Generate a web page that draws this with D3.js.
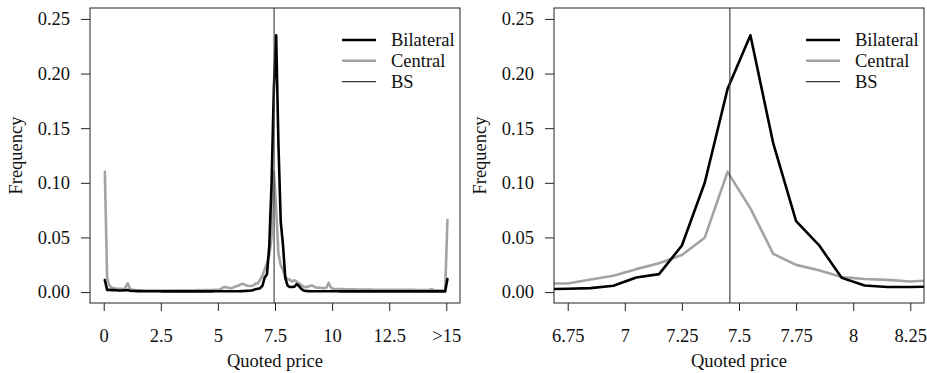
<!DOCTYPE html>
<html>
<head>
<meta charset="utf-8">
<script src="https://cdn.jsdelivr.net/npm/d3@7"></script>
<style>
  body { margin: 0; background: #fff; }
  svg text { font-family: "Liberation Serif", "Times New Roman", Times, serif; fill: #111; }
</style>
</head>
<body>
<div id="graph"></div>
<script>
// bin midpoints around the peak (right panel, also the middle of the left panel)
const centerPrice = [6.65, 6.75, 6.85, 6.95, 7.05, 7.15, 7.25, 7.35, 7.45, 7.55, 7.65, 7.75, 7.85, 7.95, 8.05, 8.15, 8.25, 8.35];
const centerBilateral = [0.0027, 0.003, 0.0036, 0.0058, 0.0134, 0.0164, 0.0426, 0.100, 0.186, 0.235, 0.136, 0.065, 0.043, 0.013, 0.006, 0.0046, 0.0046, 0.005];
const centerCentral = [0.0078, 0.0078, 0.0115, 0.0149, 0.021, 0.0264, 0.034, 0.0498, 0.110, 0.0766, 0.035, 0.0249, 0.020, 0.0137, 0.0119, 0.0112, 0.0097, 0.0108];

// tails of the full range (0.05 .. 6.55 and 8.45 .. 15.05, bins of 0.1, last bin is ">15")
const lowBilateral = [
  0.011, 0.002, 0.002, 0.0018, 0.0018, 0.0017, 0.0015, 0.0015, 0.0014, 0.0016,
  0.0018, 0.0012, 0.001, 0.001, 0.0009, 0.0009, 0.0009, 0.0008, 0.0008, 0.0008,
  0.0008, 0.0008, 0.0007, 0.0007, 0.0007, 0.0006, 0.0006, 0.0006, 0.0006, 0.0006,
  0.0006, 0.0006, 0.0007, 0.0006, 0.0006, 0.0006, 0.0007, 0.0006, 0.0006, 0.0006,
  0.0006, 0.0006, 0.0006, 0.0007, 0.0006, 0.0006, 0.0006, 0.0006, 0.0007, 0.0007,
  0.0007, 0.0007, 0.0008, 0.0008, 0.0008, 0.0008, 0.0008, 0.0008, 0.0008, 0.0008,
  0.0009, 0.001, 0.0011, 0.0012, 0.0014, 0.0018
];
const lowCentral = [
  0.110, 0.013, 0.006, 0.004, 0.0035, 0.003, 0.003, 0.003, 0.0025, 0.004,
  0.008, 0.003, 0.002, 0.0018, 0.0016, 0.0015, 0.0015, 0.0015, 0.0015, 0.0015,
  0.0015, 0.0014, 0.0015, 0.0014, 0.0014, 0.0015, 0.0015, 0.0014, 0.0015, 0.0015,
  0.0015, 0.0016, 0.0015, 0.0016, 0.0016, 0.0015, 0.0016, 0.0016, 0.0017, 0.0016,
  0.0016, 0.0018, 0.0017, 0.0018, 0.0018, 0.0018, 0.0019, 0.0019, 0.002, 0.002,
  0.002, 0.003, 0.0045, 0.0045, 0.004, 0.0035, 0.004, 0.005, 0.0055, 0.0065,
  0.0075, 0.0072, 0.006, 0.0055, 0.0055, 0.006
];
const highBilateral = [
  0.0072, 0.0055, 0.003, 0.0015, 0.001, 0.0009, 0.0008, 0.0008, 0.0008, 0.0008,
  0.0008, 0.0008, 0.0007, 0.0007, 0.0007, 0.0007, 0.0007, 0.0007, 0.0007, 0.0006,
  0.0006, 0.0006, 0.0006, 0.0006, 0.0006, 0.0006, 0.0006, 0.0006, 0.0006, 0.0006,
  0.0006, 0.0006, 0.0006, 0.0006, 0.0006, 0.0006, 0.0006, 0.0006, 0.0006, 0.0006,
  0.0006, 0.0006, 0.0006, 0.0006, 0.0006, 0.0006, 0.0006, 0.0006, 0.0006, 0.0006,
  0.0006, 0.0006, 0.0006, 0.0006, 0.0006, 0.0006, 0.0006, 0.0006, 0.0006, 0.0006,
  0.0006, 0.0006, 0.0006, 0.0006, 0.0006, 0.0006, 0.012
];
const highCentral = [
  0.0095, 0.008, 0.0065, 0.005, 0.0045, 0.005, 0.0058, 0.0058, 0.0045, 0.004,
  0.004, 0.0038, 0.0035, 0.004, 0.0085, 0.004, 0.003, 0.0028, 0.0028, 0.0027,
  0.0027, 0.0026, 0.0026, 0.0025, 0.0025, 0.0025, 0.0024, 0.0024, 0.0023, 0.0023,
  0.0023, 0.0022, 0.0022, 0.0022, 0.0021, 0.0021, 0.0021, 0.002, 0.002, 0.002,
  0.002, 0.002, 0.002, 0.002, 0.002, 0.002, 0.002, 0.002, 0.002, 0.002,
  0.002, 0.002, 0.0019, 0.0019, 0.0019, 0.0019, 0.0019, 0.0019, 0.0019, 0.0028,
  0.0019, 0.0017, 0.0016, 0.0016, 0.0015, 0.0015, 0.066
];

const fullPrice = d3.range(151).map(i => +(0.05 + 0.1 * i).toFixed(2));
const fullBilateral = [...lowBilateral, ...centerBilateral, ...highBilateral];
const fullCentral = [...lowCentral, ...centerCentral, ...highCentral];

const bsPrice = 7.46;
const yTicks = [0, 0.05, 0.10, 0.15, 0.20, 0.25];
const leftTicks = [0, 2.5, 5, 7.5, 10, 12.5, 15];
const leftTickLabels = ["0", "2.5", "5", "7.5", "10", "12.5", ">15"];
const rightTicks = [6.75, 7, 7.25, 7.5, 7.75, 8, 8.25];
const rightTickLabels = ["6.75", "7", "7.25", "7.5", "7.75", "8", "8.25"];
const legendNames = ["Bilateral", "Central", "BS"];

const W = 927, H = 373;
const plotTop = 8, plotBottom = 303;
const fontSize = 18.5;
const serif = '"Liberation Serif", "Times New Roman", Times, serif';
const colBil = "#000", colCen = "#a3a3a3", colBS = "#3a3a3a";

const svg = d3.select("#graph").append("svg")
    .attr("width", W).attr("height", H)
    .attr("font-family", serif);

const y = d3.scaleLinear().domain([-0.01, 0.26]).range([plotBottom, plotTop]);

const drawPanel = (id, left, right, xDomain, xs, bil, cen, ticks, tickLabels) => {
    const x = d3.scaleLinear().domain(xDomain).range([left, right]);
    const g = svg.append("g");

    g.append("clipPath").attr("id", "clip" + id)
        .append("rect").attr("x", left).attr("y", plotTop)
        .attr("width", right - left).attr("height", plotBottom - plotTop);

    const line = d3.line().x(d => x(d[0])).y(d => y(d[1]));
    const plot = g.append("g").attr("clip-path", `url(#clip${id})`);

    plot.append("path").datum(xs.map((v, i) => [v, cen[i]]))
        .attr("d", line).attr("fill", "none")
        .attr("stroke", colCen).attr("stroke-width", 2.6)
        .attr("stroke-linejoin", "round").attr("stroke-linecap", "round");
    plot.append("path").datum(xs.map((v, i) => [v, bil[i]]))
        .attr("d", line).attr("fill", "none")
        .attr("stroke", colBil).attr("stroke-width", 2.6)
        .attr("stroke-linejoin", "round").attr("stroke-linecap", "round");
    plot.append("line")
        .attr("x1", x(bsPrice)).attr("x2", x(bsPrice))
        .attr("y1", plotTop).attr("y2", plotBottom)
        .attr("stroke", colBS).attr("stroke-width", 1.1);

    // box
    g.append("rect").attr("x", left).attr("y", plotTop)
        .attr("width", right - left).attr("height", plotBottom - plotTop)
        .attr("fill", "none").attr("stroke", "#222").attr("stroke-width", 1);

    // y axis
    const ya = g.append("g").attr("transform", `translate(${left},0)`)
        .call(d3.axisLeft(y).tickValues(yTicks).tickFormat(d3.format(".2f"))
            .tickSize(9).tickPadding(11));
    ya.select(".domain").remove();

    // x axis
    const xa = g.append("g").attr("transform", `translate(0,${plotBottom})`)
        .call(d3.axisBottom(x).tickValues(ticks).tickFormat((d, i) => tickLabels[i])
            .tickSize(8).tickPadding(18));
    xa.select(".domain").remove();

    g.selectAll(".tick line").attr("stroke", "#222");
    g.selectAll("g").attr("font-family", serif);
    g.selectAll(".tick text").attr("font-size", fontSize)
        .attr("font-family", serif).attr("fill", "#111");

    g.append("text").attr("x", (left + right) / 2).attr("y", 367)
        .attr("text-anchor", "middle").attr("font-size", fontSize)
        .text("Quoted price");
    g.append("text")
        .attr("transform", `translate(${left - 68},${(plotTop + plotBottom) / 2}) rotate(-90)`)
        .attr("text-anchor", "middle").attr("font-size", fontSize)
        .text("Frequency");

    // legend
    const legendStyles = [[colBil, 2.6], [colCen, 2.6], [colBS, 1.1]];
    legendNames.forEach((name, i) => {
        const ly = 40 + i * 20.8;
        g.append("line").attr("x1", right - 118).attr("x2", right - 84)
            .attr("y1", ly).attr("y2", ly)
            .attr("stroke", legendStyles[i][0]).attr("stroke-width", legendStyles[i][1]);
        g.append("text").attr("x", right - 69).attr("y", ly + 6)
            .attr("font-size", fontSize).text(name);
    });
};

drawPanel("L", 90, 460, [-0.6, 15.6], fullPrice, fullBilateral, fullCentral, leftTicks, leftTickLabels);
drawPanel("R", 554, 924, [6.69, 8.31], centerPrice, centerBilateral, centerCentral, rightTicks, rightTickLabels);
</script>
</body>
</html>
